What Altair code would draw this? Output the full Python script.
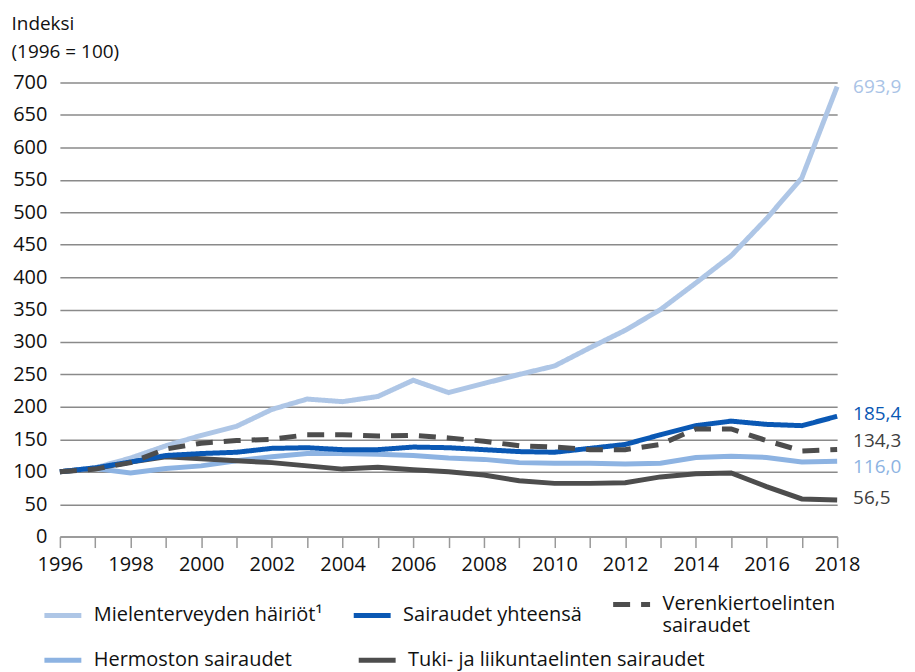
import altair as alt
import pandas as pd

years = list(range(1996, 2019))

series_names = [
    "Mielenterveyden häiriöt¹",
    "Sairaudet yhteensä",
    "Verenkiertoelinten sairaudet",
    "Hermoston sairaudet",
    "Tuki- ja liikuntaelinten sairaudet",
]

mielen = [100, 106, 121, 140, 156, 170, 196, 212, 208, 216, 241, 222, 236, 250, 263,
          291, 318, 350, 391, 433, 490, 553, 693.9]
yhteensa = [100, 106, 115, 125, 128, 130, 136, 137, 134, 134, 138, 137, 134, 131, 130,
            136, 142, 157, 171, 178, 173, 171, 185.4]
verenk = [100, 104, 114, 135, 144, 148, 150, 157, 157, 155, 156, 152, 147, 140, 138,
          134, 134, 142, 166, 166, 148, 132, 134.3]
hermo = [100, 105, 98, 105, 109, 117, 123, 128, 128, 127, 125, 121, 119, 114, 113,
         113, 112, 113, 122, 124, 122, 115, 116.0]
tuki = [100, 105, 115, 123, 120, 117, 114, 109, 104, 107, 103, 100, 95, 86, 82,
        82, 83, 92, 97, 98, 77, 58, 56.5]

colors = ["#aec6e6", "#0a58b4", "#4d4d4d", "#8db3e2", "#4d4d4d"]
label_colors = ["#a9c3e6", "#0a58b4", "#404040", "#8db3e2", "#404040"]
end_labels = ["693,9", "185,4", "134,3", "116,0", "56,5"]
end_values = [693.9, 185.4, 134.3, 116.0, 56.5]
label_dy = [0, -2, -8, 6, -2]

rows = []
for name, vals in zip(series_names, [mielen, yhteensa, verenk, hermo, tuki]):
    for yr, v in zip(years, vals):
        rows.append({"year": yr, "value": v, "series": name})
df = pd.DataFrame(rows)
row1 = series_names[:3]
row2 = series_names[3:]
df1 = df[df["series"].isin(row1)]
df2 = df[df["series"].isin(row2)]

FONT = "Open Sans"

x_enc = alt.X(
    "year:Q",
    scale=alt.Scale(domain=[1996, 2018], nice=False, zero=False),
    axis=alt.Axis(
        values=years,
        tickCount=len(years),
        format="d",
        labelExpr="datum.value % 2 == 0 ? datum.label : ''",
        title=None,
        grid=False,
        domainColor="#999999",
        domainWidth=1.5,
        tickColor="#999999",
        tickWidth=1.5,
        tickSize=11,
        labelPadding=7,
        labelFont=FONT,
        labelFontSize=20,
        labelColor="#111111",
        labelOverlap=False,
        labelFlush=False,
    ),
)
y_vals = list(range(0, 701, 50))
y_enc = alt.Y(
    "value:Q",
    scale=alt.Scale(domain=[0, 700], nice=False),
    axis=alt.Axis(
        values=y_vals,
        tickCount=len(y_vals),
        title=["Indeksi", "(1996 = 100)"],
        titleAngle=0,
        titleAlign="left",
        titleBaseline="alphabetic",
        titleX=-49,
        titleY=-53,
        titleFont=FONT,
        titleFontSize=19,
        titleFontWeight="normal",
        titleColor="#111111",
        titleLineHeight=28,
        domain=False,
        ticks=False,
        tickSize=0,
        labelPadding=13,
        labelFont=FONT,
        labelFontSize=20,
        labelColor="#111111",
        labelOverlap=False,
        gridColor="#8a8a8a",
        gridWidth=1.5,
    ),
)

legend_common = dict(
    title=None,
    orient="none",
    direction="horizontal",
    symbolType="stroke",
    symbolStrokeWidth=5,
    symbolSize=1369,
    labelFont=FONT,
    labelFontSize=20,
    labelColor="#111111",
    labelLimit=360,
    labelOffset=10,
    symbolOffset=0,
)

legend1 = alt.Legend(
    legendX=-18,
    legendY=502,
    columns=3,
    columnPadding=20,
    labelExpr="datum.label == 'Verenkiertoelinten sairaudet' ? ['Verenkiertoelinten', 'sairaudet'] : datum.label",
    **legend_common,
)
legend2 = alt.Legend(
    legendX=-18,
    legendY=558,
    columns=2,
    columnPadding=56,
    **legend_common,
)

dash_range = [[1, 0], [1, 0], [17, 11]]

lines1 = alt.Chart(df1).mark_line(strokeWidth=5, strokeCap="butt", strokeJoin="miter").encode(
    x=x_enc,
    y=y_enc,
    color=alt.Color("series:N", scale=alt.Scale(domain=row1, range=colors[:3]), legend=legend1),
    strokeDash=alt.StrokeDash(
        "series:N",
        scale=alt.Scale(domain=row1, range=dash_range),
        legend=legend1,
    ),
    detail="series:N",
)

lines2 = alt.Chart(df2).mark_line(strokeWidth=5, strokeCap="butt", strokeJoin="miter").encode(
    x=alt.X("year:Q"),
    y=alt.Y("value:Q"),
    stroke=alt.Stroke("series:N", scale=alt.Scale(domain=row2, range=colors[3:]), legend=legend2),
    detail="series:N",
)

label_layers = []
for lab, val, col, dy in zip(end_labels, end_values, label_colors, label_dy):
    ldf = pd.DataFrame({"year": [2018], "value": [val], "label": [lab]})
    label_layers.append(
        alt.Chart(ldf).mark_text(
            align="left", baseline="middle", dx=16, dy=dy, font=FONT, fontSize=19, color=col
        ).encode(
            x=alt.X("year:Q"),
            y=alt.Y("value:Q"),
            text="label:N",
        )
    )

chart = alt.layer(lines2, lines1, *label_layers).properties(
    width=779,
    height=455,
    autosize=alt.AutoSizeParams(type="none"),
    padding={"left": 52, "top": 74, "right": 70, "bottom": 134},
).configure_view(stroke=None)

chart.save("out.html", embed_options={"renderer": "svg", "actions": False})
